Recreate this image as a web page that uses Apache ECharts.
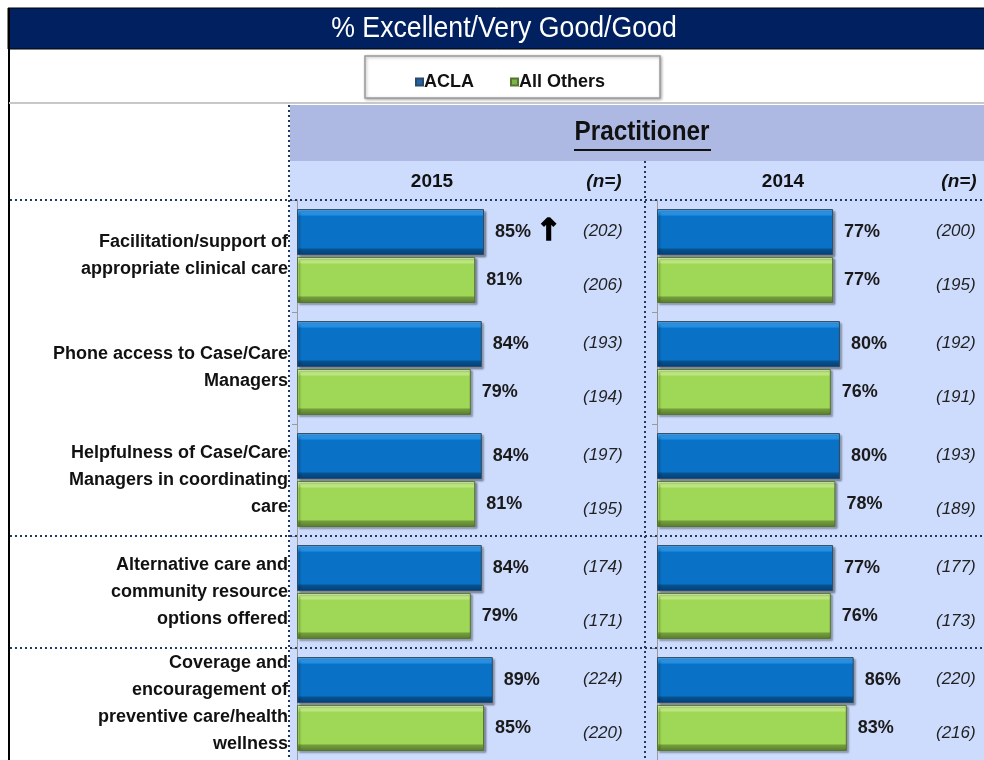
<!DOCTYPE html>
<html>
<head>
<meta charset="utf-8">
<script src="https://cdn.jsdelivr.net/npm/echarts@6/dist/echarts.min.js"></script>
<style>
  html, body { margin: 0; padding: 0; background: #fff; }
  #chart { width: 984px; height: 760px; }
</style>
</head>
<body>
<div id="chart"></div>
<script>
var categories = [
  'Facilitation/support of\nappropriate clinical care',
  'Phone access to Case/Care\nManagers',
  'Helpfulness of Case/Care\nManagers in coordinating\ncare',
  'Alternative care and\ncommunity resource\noptions offered',
  'Coverage and\nencouragement of\npreventive care/health\nwellness'
];
var years = ['2015', '2014'];
var acla2015 = [85, 84, 84, 84, 89];
var others2015 = [81, 79, 81, 79, 85];
var acla2014 = [77, 80, 80, 77, 86];
var others2014 = [77, 76, 78, 76, 83];
var aclaN2015 = [202, 193, 197, 174, 224];
var othersN2015 = [206, 194, 195, 171, 220];
var aclaN2014 = [200, 192, 193, 177, 220];
var othersN2014 = [195, 191, 189, 173, 216];
var sigUp2015 = [true, false, false, false, false];

var FONT = '"Liberation Sans", Arial, sans-serif';

var blueFill = new echarts.graphic.LinearGradient(0, 0, 0, 1, [
  { offset: 0, color: '#52b4ff' },
  { offset: 0.13, color: '#1c88de' },
  { offset: 0.16, color: '#0a72c6' },
  { offset: 0.84, color: '#0a72c6' },
  { offset: 0.88, color: '#07508e' },
  { offset: 1, color: '#043f72' }
]);
var greenFill = new echarts.graphic.LinearGradient(0, 0, 0, 1, [
  { offset: 0, color: '#dcf7a8' },
  { offset: 0.13, color: '#b6e675' },
  { offset: 0.16, color: '#9fd856' },
  { offset: 0.84, color: '#9fd856' },
  { offset: 0.88, color: '#729d3c' },
  { offset: 1, color: '#587d2c' }
]);

function pctLabel(flags) {
  return {
    show: true,
    position: 'right',
    distance: 11,
    fontFamily: FONT,
    fontSize: 18,
    fontWeight: 'bold',
    color: '#1a1a1a',
    formatter: function (p) {
      if (flags && flags[p.dataIndex]) return p.value + '%{up|\u2191}';
      return p.value + '%';
    },
    rich: {
      up: {
        fontSize: 30, fontWeight: 'bold', color: '#000', fontFamily: 'DejaVu Sans',
        textBorderColor: '#000', textBorderWidth: 1.6, padding: [0, 0, 0, 5]
      }
    }
  };
}

function barSeries(name, data, fill, border, idx, flags) {
  return {
    name: name,
    type: 'bar',
    xAxisIndex: idx,
    yAxisIndex: idx * 2,
    data: data,
    barWidth: 46,
    barGap: '4%',
    itemStyle: {
      color: fill,
      borderColor: border,
      borderWidth: 1,
      shadowColor: 'rgba(0,0,0,0.35)',
      shadowBlur: 2,
      shadowOffsetX: 2,
      shadowOffsetY: 2
    },
    label: pctLabel(flags)
  };
}

function nAxis(idx, top, bottom) {
  var txt = { lineHeight: 54, fontSize: 17, fontStyle: 'italic', color: '#222', fontFamily: FONT };
  return {
    gridIndex: idx,
    type: 'category',
    data: categories,
    inverse: true,
    position: 'right',
    axisLine: { show: false },
    axisTick: { show: false },
    axisLabel: {
      margin: 0,
      padding: [4, 0, 0, 0],
      formatter: function (v, i) {
        return '{a|(' + top[i] + ')}\n{b|(' + bottom[i] + ')}';
      },
      rich: { a: txt, b: txt }
    }
  };
}

function catAxis(idx, showLabel) {
  return {
    gridIndex: idx,
    type: 'category',
    data: categories,
    inverse: true,
    position: 'left',
    axisLine: { show: true, lineStyle: { color: '#9a9a9a', width: 1 } },
    axisTick: { show: true, length: 5, lineStyle: { color: '#9a9a9a' } },
    axisLabel: {
      show: showLabel,
      margin: 9,
      align: 'right',
      fontFamily: FONT,
      fontSize: 18,
      fontWeight: 'bold',
      lineHeight: 27,
      color: '#111'
    }
  };
}

var dotted = { stroke: '#1f3864', lineWidth: 2, lineDash: [2, 3] };

function headText(x, y, text, size, italic) {
  return {
    type: 'text', z: 5, x: x, y: y,
    style: {
      text: text, fill: '#111', fontSize: size, fontWeight: 'bold',
      fontStyle: italic ? 'italic' : 'normal', fontFamily: FONT,
      align: 'center', verticalAlign: 'middle'
    }
  };
}

var chart = echarts.init(document.getElementById('chart'));
chart.setOption({
  backgroundColor: '#ffffff',
  animation: false,
  legend: {
    left: 410,
    top: 68,
    itemWidth: 7,
    itemHeight: 7,
    itemGap: 36,
    icon: 'rect',
    textStyle: { fontFamily: FONT, fontSize: 18, fontWeight: 'bold', color: '#111', padding: [0, 0, 0, -4] },
    data: [
      { name: 'ACLA', itemStyle: { color: '#1f64a8' } },
      { name: 'All Others', itemStyle: { color: '#7ab648' } }
    ]
  },
  grid: [
    { left: 297, top: 200, width: 286, height: 560 },
    { left: 657, top: 200, width: 279, height: 560 }
  ],
  xAxis: [
    { gridIndex: 0, type: 'value', min: 0, max: 130, show: false },
    { gridIndex: 1, type: 'value', min: 0, max: 122, show: false }
  ],
  yAxis: [
    catAxis(0, true),
    nAxis(0, aclaN2015, othersN2015),
    catAxis(1, false),
    nAxis(1, aclaN2014, othersN2014)
  ],
  series: [
    barSeries('ACLA', acla2015, blueFill, '#2c4a66', 0, sigUp2015),
    barSeries('All Others', others2015, greenFill, '#56752f', 0, null),
    barSeries('ACLA', acla2014, blueFill, '#2c4a66', 1, null),
    barSeries('All Others', others2014, greenFill, '#56752f', 1, null)
  ],
  graphic: [
    // header band
    { type: 'rect', z: -5, shape: { x: 8, y: 8, width: 980, height: 41 }, style: { fill: '#002060', stroke: '#000', lineWidth: 1 } },
    { type: 'text', z: 5, x: 504, y: 29, scaleX: 0.92, originX: 0, originY: 0,
      style: { text: '% Excellent/Very Good/Good', fill: '#fff', fontSize: 29, fontFamily: FONT, align: 'center', verticalAlign: 'middle' } },
    // left border
    { type: 'line', z: -5, shape: { x1: 9, y1: 8, x2: 9, y2: 760 }, style: { stroke: '#000', lineWidth: 2 } },
    // legend box
    { type: 'rect', z: -5, shape: { x: 365, y: 56, width: 295, height: 42 }, style: { fill: '#fff', stroke: '#9a9a9a', lineWidth: 1.5, shadowColor: 'rgba(0,0,0,0.3)', shadowBlur: 3, shadowOffsetX: 1, shadowOffsetY: 1 } },
    { type: 'line', z: -5, shape: { x1: 9, y1: 103, x2: 984, y2: 103 }, style: { stroke: '#c8c8c8', lineWidth: 2 } },
    // panel backgrounds
    { type: 'rect', z: -6, shape: { x: 290, y: 105, width: 694, height: 56 }, style: { fill: '#adb9e3' } },
    { type: 'rect', z: -6, shape: { x: 290, y: 161, width: 694, height: 599 }, style: { fill: '#cddcfd' } },
    { type: 'text', z: 5, x: 642, y: 133, scaleX: 0.9, originX: 0, originY: 0,
      style: { text: 'Practitioner', fill: '#111', fontSize: 27, fontWeight: 'bold', fontFamily: FONT, align: 'center', verticalAlign: 'middle' } },
    { type: 'line', z: 5, shape: { x1: 574, y1: 150, x2: 711, y2: 150 }, style: { stroke: '#111', lineWidth: 2 } },
    headText(432, 182, years[0], 19, false),
    headText(604, 182, '(n=)', 19, true),
    headText(783, 182, years[1], 19, false),
    headText(959, 182, '(n=)', 19, true),
    // dotted separators
    { type: 'line', z: 4, shape: { x1: 289, y1: 105, x2: 289, y2: 760 }, style: dotted },
    { type: 'line', z: 4, shape: { x1: 645, y1: 161, x2: 645, y2: 760 }, style: dotted },
    { type: 'line', z: 4, shape: { x1: 10, y1: 200, x2: 984, y2: 200 }, style: dotted },
    { type: 'line', z: 4, shape: { x1: 10, y1: 536, x2: 984, y2: 536 }, style: dotted },
    { type: 'line', z: 4, shape: { x1: 10, y1: 648, x2: 984, y2: 648 }, style: dotted }
  ]
});
</script>
</body>
</html>
